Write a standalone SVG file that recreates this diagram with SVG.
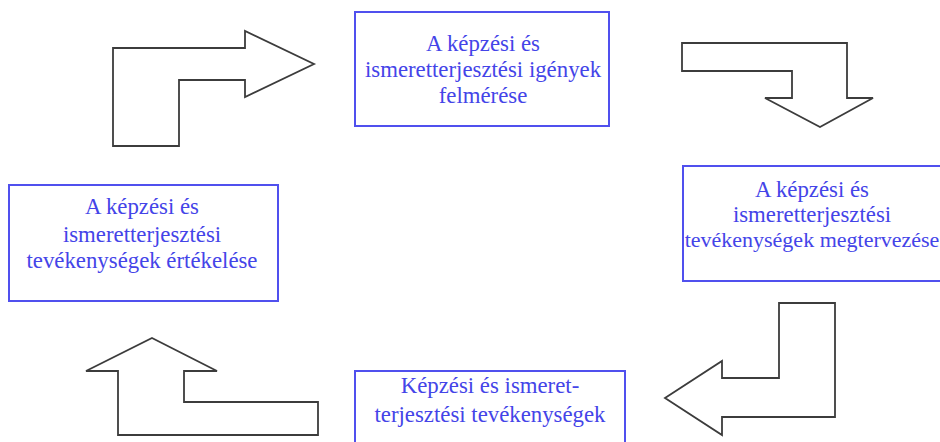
<svg xmlns="http://www.w3.org/2000/svg" width="940" height="442" viewBox="0 0 940 442">
<style>
  .box { fill: #ffffff; stroke: #5050ee; stroke-width: 2; }
  .lbl { font-family: "Liberation Serif", "DejaVu Serif", serif; font-size: 22.8px; fill: #4444e8; text-anchor: middle; }
  .arrow { fill: #ffffff; stroke: #3c3c3c; stroke-width: 1.8; stroke-linejoin: miter; }
</style>
<rect width="940" height="442" fill="#ffffff"/>
<g id="connectors">
  <polygon class="arrow" points="113,48 245,48 245,31 314,64 245,97 245,80 179,80 179,146 113,146"/>
  <polygon class="arrow" points="682,43 847,43 847,98 873,98 820,127 765,98 792,98 792,71 682,71"/>
  <polygon class="arrow" points="779,303 835,303 835,417 722,417 722,435 665,398 722,361 722,378 779,378"/>
  <polygon class="arrow" points="152,338 217,371 184,371 184,402 318,402 318,435 118,435 118,371 86,371"/>
</g>
<g id="node-felmeres">
  <rect class="box" x="355" y="12" width="254" height="114"/>
  <text class="lbl" x="483" y="51">A képzési és</text>
  <text class="lbl" x="483" y="77">ismeretterjesztési igények</text>
  <text class="lbl" x="483" y="103">felmérése</text>
</g>
<g id="node-megtervezes">
  <rect class="box" x="683" y="166" width="270" height="115"/>
  <text class="lbl" x="812" y="197">A képzési és</text>
  <text class="lbl" x="812" y="222">ismeretterjesztési</text>
  <text class="lbl" x="812" y="247" style="font-size:22px">tevékenységek megtervezése</text>
</g>
<g id="node-tevekenysegek">
  <rect class="box" x="355" y="371" width="270" height="80"/>
  <text class="lbl" x="490" y="393">Képzési és ismeret-</text>
  <text class="lbl" x="490" y="422">terjesztési tevékenységek</text>
</g>
<g id="node-ertekeles">
  <rect class="box" x="9" y="185" width="269" height="116"/>
  <text class="lbl" x="142" y="214">A képzési és</text>
  <text class="lbl" x="142" y="242">ismeretterjesztési</text>
  <text class="lbl" x="142" y="268">tevékenységek értékelése</text>
</g>
</svg>
